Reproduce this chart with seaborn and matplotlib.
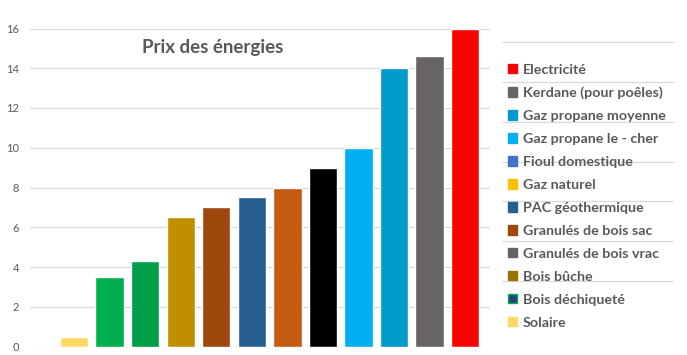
import matplotlib
matplotlib.use("Agg")
import matplotlib.pyplot as plt
from matplotlib.patches import Patch
import pandas as pd
import seaborn as sns

# data (bars left to right)
categories = ["Solaire", "Bois déchiqueté", "Bois bûche", "Granulés de bois vrac",
              "Granulés de bois sac", "PAC géothermique", "Gaz naturel",
              "Fioul domestique", "Gaz propane le - cher", "Gaz propane moyenne",
              "Kerdane (pour poêles)", "Electricité"]
prices = [0.5, 3.5, 4.3, 6.5, 7.0, 7.5, 8.0, 9.0, 10.0, 14.0, 14.6, 16.0]
bar_colors = ["#FFD966", "#00B050", "#009E49", "#BF8F00", "#9E480E", "#255E91",
              "#C55A11", "#000000", "#00B0F0", "#009ACD", "#696464", "#FF0000"]
# the legend swatches don't match the bars in the original, keep them as shown
legend_colors = ["#FFD966", "#264478", "#997300", "#636363", "#9E480E", "#255E91",
                 "#FFC000", "#4472C4", "#00B0F0", "#009ACD", "#696464", "#FF0000"]
yticks = [0, 2, 4, 6, 8, 10, 12, 14, 16]
legend_rule_levels = [15.3, 13.3, 11.3, 9.3, 7.3, 5.3, 3.3]

sns.set_theme(style="white")
plt.rcParams["font.family"] = ["Lato", "DejaVu Sans"]

W, H = 687, 355
fig = plt.figure(figsize=(W / 100, H / 100), dpi=100)
ax = fig.add_axes([30 / W, 1 - 346.5 / H, 460 / W, (346.5 - 28.5) / H])

df = pd.DataFrame({"energie": categories, "prix": prices})
sns.barplot(data=df, x="energie", y="prix", hue="energie", palette=bar_colors,
            legend=False, width=0.8, saturation=1, ax=ax, zorder=3)

ax.set_xlim(-1.24, 11.7)
ax.set_ylim(0, 16)
ax.set_yticks(yticks)
ax.set_xticks([])
ax.set_xlabel("")
ax.set_ylabel("")
ax.grid(axis="y", color="#D9D9D9", lw=0.9, zorder=0)
ax.tick_params(axis="y", length=0, pad=8, labelsize=8, labelcolor="#595959")
for s in ax.spines.values():
    s.set_visible(False)

# stray rules behind the legend, as in the original image
lax = fig.add_axes([502 / W, 1 - 346.5 / H, 172 / W, (346.5 - 28.5) / H], sharey=ax)
lax.set_xlim(0, 1)
lax.hlines(legend_rule_levels, 0, 1, color="#D9D9D9", lw=0.9)
lax.axis("off")

fig.text(213 / W, 1 - 48 / H, "Prix des énergies", ha="center", va="center",
         fontsize=13.5, fontweight="bold", color="#595959")

handles = [Patch(facecolor=c, edgecolor=("#00B050" if lab == "Bois déchiqueté" else c))
           for c, lab in zip(legend_colors, categories)]
leg = fig.legend(handles[::-1], categories[::-1], loc="upper left",
                 bbox_to_anchor=(508 / W, 1 - 63.5 / H), frameon=False,
                 handlelength=0.65, handleheight=0.65, handletextpad=0.4,
                 labelspacing=0.765, borderpad=0, borderaxespad=0,
                 prop={"size": 10.3, "weight": "bold"})
for t in leg.get_texts():
    t.set_color("#595959")

fig.savefig("out.png", dpi=100)
